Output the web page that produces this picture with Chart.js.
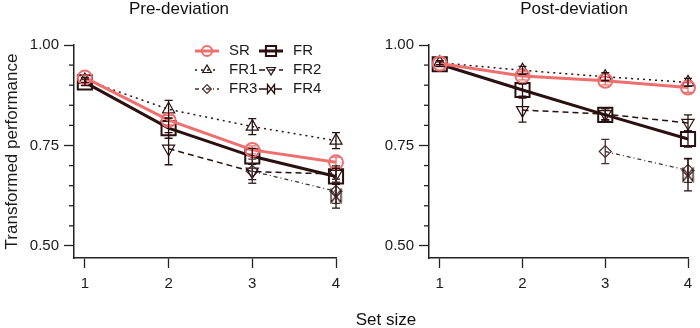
<!DOCTYPE html>
<html>
<head>
<meta charset="utf-8">
<script src="https://cdn.jsdelivr.net/npm/chart.js@4.4.1/dist/chart.umd.min.js"></script>
<style>
  body { margin: 0; background: #fff; font-family: "Liberation Sans", Arial, sans-serif; }
  #wrap { position: relative; width: 700px; height: 328px; overflow: hidden; }
  .panel { position: absolute; top: 0; width: 350px; height: 328px; }
  .lbl { position: absolute; color: #111; white-space: nowrap; text-align: center; font-size: 17px; line-height: 20px; }
</style>
</head>
<body>
<div id="wrap">
  <div class="panel" style="left:0"><canvas id="preChart" width="350" height="328"></canvas></div>
  <div class="panel" style="left:350px"><canvas id="postChart" width="350" height="328"></canvas></div>
  <div class="lbl" style="left:79px; width:200px; top:-1px">Pre-deviation</div>
  <div class="lbl" style="left:474px; width:200px; top:-1px">Post-deviation</div>
  <div class="lbl" style="left:286px; width:200px; top:310px">Set size</div>
</div>
<script>
const setSizes = [1, 2, 3, 4];
const seriesNames = ['SR', 'FR', 'FR1', 'FR2', 'FR3', 'FR4'];
const yTicks = [0.50, 0.55, 0.60, 0.65, 0.70, 0.75, 0.80, 0.85, 0.90, 0.95, 1.00];
const yLabelled = [0.50, 0.75, 1.00];

// Pre-deviation: means and error half-widths
const preSR  = [0.919, 0.813, 0.739, 0.708];
const preFR  = [0.907, 0.793, 0.723, 0.673];
const preFR1 = [0.913, 0.840, 0.797, 0.762];
const preFR2 = [null, 0.742, 0.685, 0.679];
const preFR3 = [null, null, 0.686, 0.636];
const preFR4 = [null, null, null, 0.624];
const preSRErr  = [0.006, 0.012, 0.010, 0.013];
const preFRErr  = [0.008, 0.025, 0.020, 0.020];
const preFR1Err = [0.006, 0.022, 0.020, 0.020];
const preFR2Err = [null, 0.040, 0.020, 0.020];
const preFR3Err = [null, null, 0.030, 0.030];
const preFR4Err = [null, null, null, 0.030];

// Post-deviation
const postSR  = [0.954, 0.923, 0.911, 0.894];
const postFR  = [0.952, 0.888, 0.826, 0.766];
const postFR1 = [0.956, 0.937, 0.921, 0.907];
const postFR2 = [null, 0.838, 0.828, 0.806];
const postFR3 = [null, null, 0.735, 0.688];
const postFR4 = [null, null, null, 0.677];
const postSRErr  = [0.005, 0.010, 0.010, 0.012];
const postFRErr  = [0.006, 0.015, 0.012, 0.020];
const postFR1Err = [0.005, 0.010, 0.010, 0.010];
const postFR2Err = [null, 0.030, 0.015, 0.020];
const postFR3Err = [null, null, 0.030, 0.030];
const postFR4Err = [null, null, null, 0.040];

const pink = '#ef6e6e';
const dark = '#2a1010';
const axisColor = '#222';
Chart.defaults.font.family = '"Liberation Sans", Arial, sans-serif';

function makeBowtie(color, w, h) {
    const c = document.createElement('canvas');
    c.width = w; c.height = h;
    const g = c.getContext('2d');
    g.strokeStyle = color;
    g.lineWidth = 1.3;
    g.beginPath();
    g.moveTo(1.5, 1.5); g.lineTo(1.5, h - 1.5); g.lineTo(w - 1.5, 1.5); g.lineTo(w - 1.5, h - 1.5);
    g.closePath();
    g.stroke();
    return c;
}

const styles = [
    { borderColor: pink, borderWidth: 3, pointStyle: 'circle', pointRadius: 7, pointBorderWidth: 2 },
    { borderColor: dark, borderWidth: 3, pointStyle: 'rect', pointRadius: 10, pointBorderWidth: 2 },
    { borderColor: dark, borderWidth: 1.5, borderDash: [2, 4], pointStyle: 'triangle', pointRadius: 7, pointBorderWidth: 1.2 },
    { borderColor: dark, borderWidth: 1.5, borderDash: [6, 4], pointStyle: 'triangle', pointRotation: 180, pointRadius: 7, pointBorderWidth: 1.2 },
    { borderColor: '#4a3030', borderWidth: 1.3, borderDash: [4, 3, 1, 3], pointStyle: 'rectRot', pointRadius: 6, pointBorderWidth: 1.2 },
    { borderColor: dark, borderWidth: 1.3, borderDash: [8, 3, 1, 3], pointStyle: makeBowtie(dark, 13, 16), pointRadius: 6, pointBorderWidth: 1.2 }
];

function buildDatasets(values, errs) {
    return seriesNames.map((name, i) => Object.assign({
        label: name,
        data: setSizes.map((x, j) => ({ x: x, y: values[i][j] })),
        errors: errs[i],
        pointBorderColor: styles[i].borderColor,
        pointBackgroundColor: 'rgba(255,255,255,0)',
        fill: false,
        tension: 0,
        clip: false
    }, styles[i]));
}

// error bars drawn through the y scale
const errorBars = {
    id: 'errorBars',
    afterDatasetsDraw(chart) {
        const ctx = chart.ctx;
        const ys = chart.scales.y;
        chart.data.datasets.forEach((ds, i) => {
            const meta = chart.getDatasetMeta(i);
            meta.data.forEach((pt, j) => {
                const v = ds.data[j].y, e = ds.errors[j];
                if (v == null || e == null) return;
                const top = ys.getPixelForValue(v + e);
                const bot = ys.getPixelForValue(v - e);
                ctx.save();
                ctx.strokeStyle = ds.borderColor;
                ctx.lineWidth = 1.3;
                ctx.beginPath();
                ctx.moveTo(pt.x, top); ctx.lineTo(pt.x, bot);
                ctx.moveTo(pt.x - 4, top); ctx.lineTo(pt.x + 4, top);
                ctx.moveTo(pt.x - 4, bot); ctx.lineTo(pt.x + 4, bot);
                ctx.stroke();
                ctx.restore();
            });
        });
    }
};

// shorter unlabelled ticks on the y axis
const minorTicks = {
    id: 'minorTicks',
    afterDraw(chart) {
        const ctx = chart.ctx;
        const ys = chart.scales.y;
        const left = chart.chartArea.left;
        ctx.save();
        ctx.strokeStyle = axisColor;
        ctx.lineWidth = 1.3;
        ys.ticks.forEach(t => {
            if (yLabelled.some(m => Math.abs(m - t.value) < 1e-6)) return;
            const y = ys.getPixelForValue(t.value);
            ctx.beginPath();
            ctx.moveTo(left - 5, y); ctx.lineTo(left, y);
            ctx.stroke();
        });
        ctx.restore();
    }
};

// two-column legend
const pairLegend = {
    id: 'pairLegend',
    afterDraw(chart, args, opts) {
        if (!opts.show) return;
        const ctx = chart.ctx;
        chart.data.datasets.forEach((ds, i) => {
            const x0 = opts.colX[i % 2];
            const y = opts.rowY[Math.floor(i / 2)];
            const w = opts.sampleWidth;
            ctx.save();
            ctx.strokeStyle = ds.borderColor;
            ctx.lineWidth = ds.borderWidth;
            ctx.setLineDash(ds.borderDash || []);
            ctx.beginPath();
            ctx.moveTo(x0, y); ctx.lineTo(x0 + w, y);
            ctx.stroke();
            ctx.setLineDash([]);
            ctx.strokeStyle = ds.pointBorderColor;
            ctx.fillStyle = 'rgba(255,255,255,0)';
            ctx.lineWidth = ds.pointBorderWidth;
            Chart.helpers.drawPoint(ctx, {
                pointStyle: ds.pointStyle instanceof HTMLCanvasElement ? makeBowtie(dark, 10, 12) : ds.pointStyle,
                rotation: ds.pointRotation || 0,
                radius: ds.pointRadius * 0.72,
                borderWidth: ds.pointBorderWidth
            }, x0 + w / 2, y);
            ctx.fillStyle = '#1a1a1a';
            ctx.font = '15px "Liberation Sans", Arial, sans-serif';
            ctx.textBaseline = 'middle';
            ctx.fillText(ds.label, x0 + w + 10, y);
            ctx.restore();
        });
    }
};

function makeChart(id, values, errs, yWidth, padRight, showTitle, showLegend) {
    return new Chart(document.getElementById(id), {
        type: 'line',
        data: { datasets: buildDatasets(values, errs) },
        plugins: [errorBars, minorTicks, pairLegend],
        options: {
            responsive: false,
            animation: false,
            layout: { padding: { left: 0, top: 45, right: padRight, bottom: 0 } },
            plugins: {
                legend: { display: false },
                tooltip: { enabled: false },
                pairLegend: { show: showLegend, colX: [195, 259], rowY: [51, 70, 89], sampleWidth: 24 }
            },
            scales: {
                x: {
                    type: 'linear',
                    min: 0.87,
                    max: 4,
                    afterBuildTicks: s => { s.ticks = setSizes.map(v => ({ value: v })); },
                    afterFit: s => { s.height = 70; },
                    border: { display: true, color: axisColor, width: 1.5 },
                    grid: { drawOnChartArea: false, tickLength: 10, tickColor: axisColor, tickWidth: 1.3 },
                    ticks: { color: '#1a1a1a', font: { size: 15 }, padding: 7, autoSkip: false, maxRotation: 0 }
                },
                y: {
                    min: 0.47,
                    max: 1.0,
                    afterBuildTicks: s => { s.ticks = yTicks.map(v => ({ value: v })); },
                    afterFit: s => { s.width = yWidth; },
                    border: { display: true, color: axisColor, width: 1.5 },
                    grid: {
                        drawOnChartArea: false,
                        tickLength: 10,
                        tickWidth: 1.3,
                        tickColor: c => yLabelled.some(m => Math.abs(m - c.tick.value) < 1e-6) ? axisColor : 'rgba(0,0,0,0)'
                    },
                    ticks: {
                        color: '#1a1a1a',
                        font: { size: 15 },
                        padding: 5,
                        autoSkip: false,
                        callback: v => yLabelled.some(m => Math.abs(m - v) < 1e-6) ? v.toFixed(2) : ''
                    },
                    title: {
                        display: showTitle,
                        text: 'Transformed performance',
                        color: '#1a1a1a',
                        font: { size: 17 },
                        padding: { top: 2, bottom: 0 }
                    }
                }
            }
        }
    });
}

makeChart('preChart',
    [preSR, preFR, preFR1, preFR2, preFR3, preFR4],
    [preSRErr, preFRErr, preFR1Err, preFR2Err, preFR3Err, preFR4Err],
    74, 14, true, true);
makeChart('postChart',
    [postSR, postFR, postFR1, postFR2, postFR3, postFR4],
    [postSRErr, postFRErr, postFR1Err, postFR2Err, postFR3Err, postFR4Err],
    79, 9, false, false);
</script>
</body>
</html>
